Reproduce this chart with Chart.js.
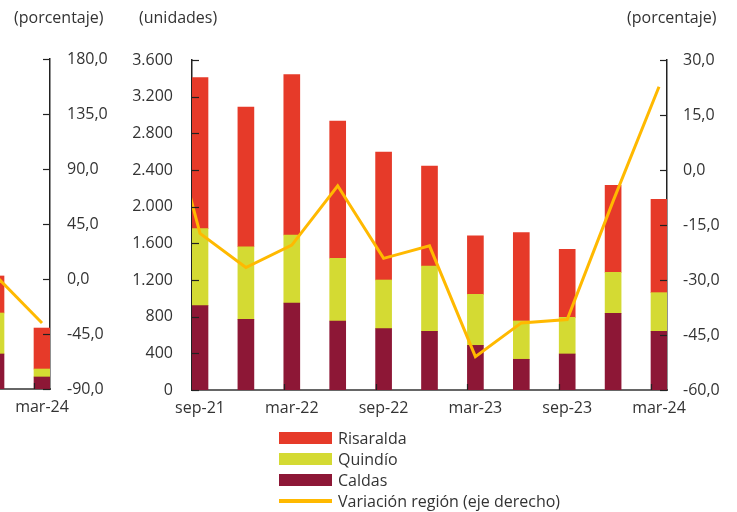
<!DOCTYPE html>
<html>
<head>
<meta charset="utf-8">
<script src="https://cdn.jsdelivr.net/npm/chart.js@4.4.1/dist/chart.umd.min.js"></script>
<style>
  html, body { margin: 0; padding: 0; background: #fff; }
  body { width: 737px; height: 512px; position: relative; overflow: hidden; font-family: 'Open Sans', sans-serif; color: #333; }
  canvas { position: absolute; top: 0; }
  #prev { left: 0; }
  #main { left: 130px; }
  .unit { position: absolute; top: 6px; font-size: 16px; }
  #legend { position: absolute; left: 279px; top: 427px; font-size: 16px; }
  #legend .row { display: flex; align-items: center; height: 21px; }
  #legend .sw { width: 53px; margin-right: 6px; }
</style>
</head>
<body>
<canvas id="prev" width="130" height="512"></canvas>
<canvas id="main" width="607" height="512"></canvas>
<div class="unit" style="left:14px">(porcentaje)</div>
<div class="unit" style="left:139px">(unidades)</div>
<div class="unit" style="left:627px">(porcentaje)</div>
<div id="legend"></div>
<script>
// main panel, quarterly (jun-21 only feeds the start of the line)
var quarters = ['jun-21', 'sep-21', 'dic-21', 'mar-22', 'jun-22', 'sep-22', 'dic-22',
  'mar-23', 'jun-23', 'sep-23', 'dic-23', 'mar-24'];
var caldas = [null, 920, 771, 949, 753, 669, 640, 487, 335, 393, 837, 640];
var quindio = [null, 840, 792, 742, 684, 531, 713, 557, 418, 400, 447, 422];
var risaralda = [null, 1647, 1524, 1749, 1498, 1396, 1091, 639, 963, 742, 949, 1018];
var variacion = [30, -17.3, -26.6, -20.5, -4.3, -24.1, -20.7, -50.9, -41.7, -40.8, -8.5, 22.7];
var xLabelTicks = [1, 3, 5, 7, 9, 11];

// cut-off panel at the left edge
var prevQuarters = ['dic-23', 'mar-24'];
var prevCaldas = [382, 131];
var prevQuindio = [447, 87];
var prevRisaralda = [404, 447];
var prevVariacion = [2.5, -36];

var unitTicks = [0, 3600, 400];
var pctTicks = [-60, 30, 15];
var prevPctTicks = [-90, 180, 45];

var COLORS = {
  risaralda: '#E63A29',
  quindio: '#D4DA33',
  caldas: '#8D1736',
  line: '#FFB900'
};
var TEXT = '#333333';

Chart.defaults.font.family = "'Open Sans', sans-serif";
Chart.defaults.font.size = 16;
Chart.defaults.color = TEXT;

function points(values) {
  var out = [];
  values.forEach(function (v, i) {
    if (v !== null) out.push({ x: i, y: v });
  });
  return out;
}

function pct(v) {
  return Number(v).toFixed(1).replace('.', ',');
}

// tick marks drawn inward, like the original
var innerTicks = {
  id: 'innerTicks',
  afterDraw: function (chart) {
    var ctx = chart.ctx;
    var area = chart.chartArea;
    ctx.save();
    ctx.strokeStyle = '#222';
    ctx.lineWidth = 1.2;
    ['y', 'y1'].forEach(function (id) {
      var s = chart.scales[id];
      if (!s || !s.options.display) return;
      var x0 = s.position === 'left' ? area.left : area.right;
      var dir = s.position === 'left' ? 1 : -1;
      s.ticks.forEach(function (t) {
        var y = Math.round(s.getPixelForValue(t.value)) + 0.5;
        ctx.beginPath();
        ctx.moveTo(x0, y);
        ctx.lineTo(x0 + dir * 7, y);
        ctx.stroke();
      });
    });
    var sx = chart.scales.x;
    sx.ticks.forEach(function (t) {
      var x = Math.round(sx.getPixelForValue(t.value) - 8) + 0.5;
      if (x < area.left + 2) return;
      ctx.beginPath();
      ctx.moveTo(x, area.bottom);
      ctx.lineTo(x, area.bottom - 6);
      ctx.stroke();
    });
    ctx.restore();
  }
};

function barSet(label, values, color) {
  return {
    type: 'bar',
    label: label,
    data: points(values),
    backgroundColor: color,
    barThickness: 16,
    yAxisID: 'y',
    order: 1
  };
}

function lineSet(label, values) {
  return {
    type: 'line',
    label: label,
    data: points(values),
    borderColor: COLORS.line,
    backgroundColor: COLORS.line,
    borderWidth: 3,
    pointRadius: 0,
    tension: 0,
    yAxisID: 'y1',
    order: 0
  };
}

function fixedSize(prop, size) {
  return function (s) { s[prop] = size; };
}

// main chart
var main = new Chart(document.getElementById('main'), {
  data: {
    datasets: [
      barSet('Caldas', caldas, COLORS.caldas),
      barSet('Quindío', quindio, COLORS.quindio),
      barSet('Risaralda', risaralda, COLORS.risaralda),
      lineSet('Variación región (eje derecho)', variacion)
    ]
  },
  options: {
    responsive: false,
    animation: false,
    layout: { padding: { top: 60, left: 0, right: 0, bottom: 0 } },
    plugins: { legend: { display: false }, tooltip: { enabled: false } },
    scales: {
      x: {
        type: 'linear',
        stacked: true,
        offset: false,
        min: 1 - 8 / 45.9,
        max: 11 + 8 / 45.9,
        afterBuildTicks: function (s) {
          s.ticks = xLabelTicks.map(function (v) { return { value: v }; });
        },
        afterFit: fixedSize('height', 122),
        ticks: {
          padding: 9,
          maxRotation: 0,
          autoSkip: false,
          callback: function (v) { return quarters[v]; }
        },
        grid: { display: false, drawTicks: false, offset: false },
        border: { display: true, color: '#666', width: 2 }
      },
      y: {
        position: 'left',
        stacked: true,
        min: unitTicks[0],
        max: unitTicks[1],
        afterFit: fixedSize('width', 62),
        ticks: {
          stepSize: unitTicks[2],
          padding: 19,
          callback: function (v) { return v.toLocaleString('de-DE'); }
        },
        grid: { display: false, drawTicks: false },
        border: { display: true, color: '#222', width: 1.5 }
      },
      y1: {
        position: 'right',
        min: pctTicks[0],
        max: pctTicks[1],
        afterFit: fixedSize('width', 70),
        ticks: { stepSize: pctTicks[2], padding: 16, callback: pct },
        grid: { display: false, drawTicks: false },
        border: { display: true, color: '#222', width: 1.5 }
      }
    }
  },
  plugins: [innerTicks]
});

// partial panel on the left
new Chart(document.getElementById('prev'), {
  data: {
    datasets: [
      barSet('Caldas', prevCaldas, COLORS.caldas),
      barSet('Quindío', prevQuindio, COLORS.quindio),
      barSet('Risaralda', prevRisaralda, COLORS.risaralda),
      lineSet('Variación región (eje derecho)', prevVariacion)
    ]
  },
  options: {
    responsive: false,
    animation: false,
    layout: { padding: { top: 59, left: 0, right: 0, bottom: 0 } },
    plugins: { legend: { display: false }, tooltip: { enabled: false } },
    scales: {
      x: {
        type: 'linear',
        stacked: true,
        offset: false,
        min: 4 / 46,
        max: 4 / 46 + 50 / 46,
        afterBuildTicks: function (s) { s.ticks = [{ value: 1 }]; },
        afterFit: fixedSize('height', 123),
        ticks: {
          padding: 9,
          maxRotation: 0,
          callback: function (v) { return prevQuarters[v]; }
        },
        grid: { display: false, drawTicks: false, offset: false },
        border: { display: true, color: '#666', width: 2 }
      },
      y: { display: false, stacked: true, min: unitTicks[0], max: unitTicks[1] },
      y1: {
        position: 'right',
        min: prevPctTicks[0],
        max: prevPctTicks[1],
        afterFit: fixedSize('width', 80),
        ticks: { stepSize: prevPctTicks[2], padding: 17, callback: pct },
        grid: { display: false, drawTicks: false },
        border: { display: true, color: '#222', width: 1.5 }
      }
    }
  },
  plugins: [innerTicks]
});

// legend, one item per row, built from the main chart datasets
var legendOrder = [2, 1, 0, 3];
var legendEl = document.getElementById('legend');
legendOrder.forEach(function (i) {
  var ds = main.data.datasets[i];
  var row = document.createElement('div');
  row.className = 'row';
  var sw = document.createElement('span');
  sw.className = 'sw';
  sw.style.height = ds.type === 'line' ? '4px' : '12px';
  sw.style.background = ds.type === 'line' ? ds.borderColor : ds.backgroundColor;
  var txt = document.createElement('span');
  txt.textContent = ds.label;
  row.appendChild(sw);
  row.appendChild(txt);
  legendEl.appendChild(row);
});
</script>
</body>
</html>
